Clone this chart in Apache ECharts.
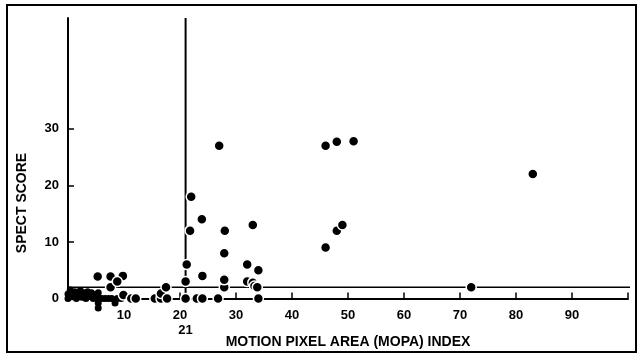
<!DOCTYPE html>
<html>
<head>
<meta charset="utf-8">
<script src="https://cdn.jsdelivr.net/npm/echarts@6/dist/echarts.min.js"></script>
<style>html,body{margin:0;padding:0;background:#fff}#c{width:639px;height:358px}</style>
</head>
<body>
<div id="c"></div>
<script>
// ---- data ----
const xTitle = 'MOTION PIXEL AREA (MOPA) INDEX';
const yTitle = 'SPECT SCORE';
const xTickLabels = [10, 20, 30, 40, 50, 60, 70, 80, 90];
const xTicks = [10, 20, 30, 40, 50, 60, 70, 80, 90, 100];
const yTickLabels = [0, 10, 20, 30];
const yTicks = [10, 20, 30];
const mopaCutoff = 21;      // vertical cut-off line (MOPA index)
const spectCutoff = 2;      // horizontal cut-off line (SPECT score)
// dense cluster of low MOPA / low SPECT cases
const lowCluster = [
  [0,0],[0,0.8],[0.4,1.5],[0.8,0.3],[1.2,1.2],[1.5,0],[1.8,0.8],[2.2,1.4],[2.5,0.2],
  [2.8,1],[3.2,0],[3.5,1.2],[3.8,0.5],[4.2,1],[4.5,0],[4.8,0.6],[5.3,0],[5.4,1],
  [5.4,-0.8],[5.4,-1.7],[6,0],[6.6,0],[7.2,0],[7.8,0],[8.4,-0.8],[8.8,0],[9.5,0]
];
// remaining cases
const cases = [
  [5.3,3.9],[7.6,3.9],[9.8,4],[7.6,2],[8.8,3],[9.9,0.6],
  [11.3,0],[12.1,0],[15.5,0],[16.6,0],[16.6,0.9],[17.7,0],[17.5,2],
  [21,0],[21,3],[21.2,6],[21.8,12],[22,18],[23,0],[24,0],[24,4],[23.9,14],
  [26.8,0],[27,27],[27.9,2],[27.9,3.3],[27.9,8],[28,12],
  [32,6],[32,3],[33,2.8],[33.3,2.2],[33.8,2],[34,5],[33,13],[34,0],
  [46,9],[46,27],[48,27.7],[51,27.8],[48,12],[49,13],[72,2],[83,22]
];
// extents of the two cut-off lines
const hLineX = [-2.2, 101];
const vLineY = [-0.8, 49.6];

const chart = echarts.init(document.getElementById('c'), null, {renderer: 'canvas'});
const font = 'Liberation Sans';
const lbl = {color: '#000', fontFamily: font, fontWeight: 'bold', fontSize: 13};
chart.setOption({
  animation: false,
  backgroundColor: '#fff',
  grid: {left: 68, right: 11, top: 18, bottom: 59.5, containLabel: false, outerBoundsMode: 'none'},
  xAxis: {
    type: 'value', min: 0, max: 100, interval: 10,
    name: xTitle, nameLocation: 'middle', nameGap: 37, nameMoveOverlap: false,
    nameTextStyle: {color: '#000', fontFamily: font, fontWeight: 'bold', fontSize: 14},
    axisLine: {show: true, onZero: false, lineStyle: {color: '#000', width: 2}},
    axisTick: {show: true, inside: true, length: 6, customValues: xTicks, lineStyle: {color: '#000', width: 1.5}},
    axisLabel: Object.assign({
      show: true, margin: 9, hideOverlap: false, lineHeight: 15,
      customValues: xTickLabels.concat([mopaCutoff]),
      formatter: v => v === mopaCutoff ? '\n' + v : String(v)
    }, lbl),
    splitLine: {show: false}
  },
  yAxis: {
    type: 'value', min: 0, max: 49.6, interval: 10,
    axisLine: {show: true, onZero: false, lineStyle: {color: '#000', width: 2}},
    axisTick: {show: true, inside: true, length: 6, customValues: yTicks, lineStyle: {color: '#000', width: 1.5}},
    axisLabel: Object.assign({show: true, margin: 9, customValues: yTickLabels}, lbl),
    splitLine: {show: false}
  },
  graphic: [
    {type: 'rect', z: -1, shape: {x: 7, y: 5, width: 629, height: 347}, style: {fill: null, stroke: '#000', lineWidth: 2}},
    {type: 'text', x: 22, y: 203, rotation: Math.PI / 2,
     style: {text: yTitle, fill: '#000', font: 'bold 14px "Liberation Sans"', textAlign: 'center', textVerticalAlign: 'middle'}}
  ],
  series: [
    {type: 'line', data: hLineX.map(x => [x, spectCutoff]), clip: false, symbol: 'none',
     lineStyle: {color: '#000', width: 1.6}, z: 1, silent: true},
    {type: 'line', data: vLineY.map(y => [mopaCutoff, y]), clip: false, symbol: 'none',
     lineStyle: {color: '#000', width: 2}, z: 1, silent: true},
    {type: 'scatter', data: lowCluster, clip: false, symbolSize: 7,
     itemStyle: {color: '#000', opacity: 1}, z: 3},
    {type: 'scatter', data: cases, clip: false, symbolSize: 10,
     itemStyle: {color: '#000', borderColor: '#fff', borderWidth: 1.5, opacity: 1}, z: 4}
  ]
});
</script>
</body>
</html>
